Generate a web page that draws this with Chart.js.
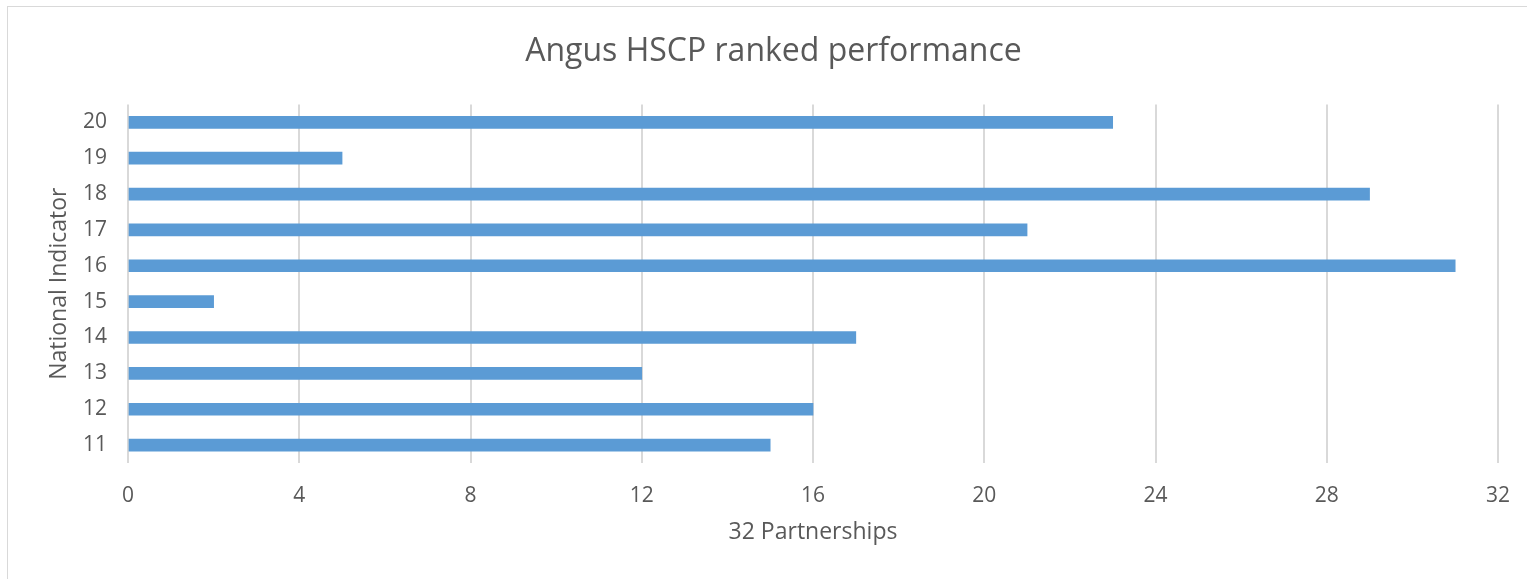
<!DOCTYPE html>
<html>
<head>
<meta charset="utf-8">
<script src="https://cdn.jsdelivr.net/npm/chart.js@4"></script>
<style>
  html, body { margin: 0; padding: 0; background: #fff; }
  #wrap { position: relative; width: 1527px; height: 579px; overflow: hidden; }
  #frame { position: absolute; left: 7px; top: 6px; right: -2px; bottom: -2px; border: 1px solid #d9d9d9; }
  canvas { position: absolute; left: 0; top: 0; }
</style>
</head>
<body>
<div id="wrap">
  <div id="frame"></div>
  <canvas id="chart" width="1527" height="579"></canvas>
</div>
<script>
// National indicators, listed top to bottom as in the chart
const indicators = ['20', '19', '18', '17', '16', '15', '14', '13', '12', '11'];
// Rank among the 32 partnerships
const ranks = [23, 5, 29, 21, 31, 2, 17, 12, 16, 15];
const xTicks = [0, 4, 8, 12, 16, 20, 24, 28, 32];

const textColor = '#595959';
const gridColor = '#d9d9d9';
const fontFamily = '"Open Sans", "Noto Sans", sans-serif';

document.addEventListener('DOMContentLoaded', function () {
  const ctx = document.getElementById('chart').getContext('2d');

  new Chart(ctx, {
    type: 'bar',
    data: {
      labels: indicators,
      datasets: [{
        data: ranks,
        backgroundColor: '#5b9bd5',
        borderWidth: 0,
        barThickness: 12
      }]
    },
    options: {
      indexAxis: 'y',
      responsive: false,
      animation: false,
      layout: { padding: { top: 0, right: 0, bottom: 0, left: 20 } },
      plugins: {
        legend: { display: false },
        tooltip: { enabled: false },
        title: {
          display: true,
          text: 'Angus HSCP ranked performance',
          color: textColor,
          font: { family: fontFamily, size: 32, weight: 'normal', lineHeight: 1.2 },
          padding: { top: 33, bottom: 33 }
        }
      },
      scales: {
        x: {
          min: 0,
          max: 32,
          afterBuildTicks: scale => { scale.ticks = xTicks.map(v => ({ value: v })); },
          afterFit: scale => {
            scale.height = 116;
            scale.paddingLeft = 0;
            scale.paddingRight = 29;
          },
          grid: { color: gridColor, lineWidth: 2, drawTicks: false },
          border: { display: false },
          ticks: {
            color: textColor,
            padding: 20,
            font: { family: fontFamily, size: 21 }
          },
          title: {
            display: true,
            text: '32 Partnerships',
            color: textColor,
            font: { family: fontFamily, size: 23, lineHeight: 1.2 },
            padding: { top: 0, bottom: 33 }
          }
        },
        y: {
          afterFit: scale => { scale.width = 108; },
          grid: { display: false, drawTicks: false },
          border: { display: false },
          ticks: {
            color: textColor,
            padding: 21,
            font: { family: fontFamily, size: 21 }
          },
          title: {
            display: true,
            text: 'National Indicator',
            color: textColor,
            font: { family: fontFamily, size: 23, lineHeight: 1.2 },
            padding: { top: 26, bottom: 0 }
          }
        }
      }
    }
  });
});
</script>
</body>
</html>
